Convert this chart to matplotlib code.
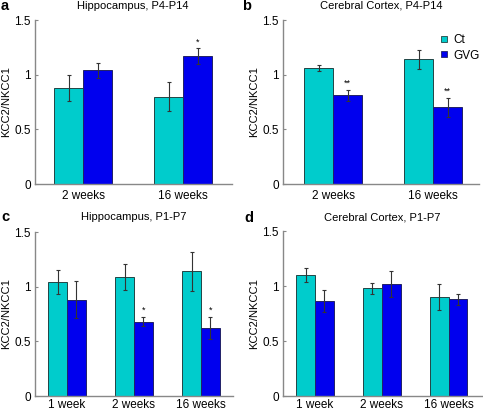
import numpy as np
import matplotlib
matplotlib.use("Agg")
from matplotlib import pyplot as plt
from matplotlib.lines import Line2D

plt.rcParams["font.family"] = ["Liberation Sans", "DejaVu Sans"]
plt.rcParams["font.size"] = 8

ct_color = "#00cccc"
gvg_color = "#0000ee"

# panel data
titles = ["Hippocampus, P4-P14", "Cerebral Cortex, P4-P14",
          "Hippocampus, P1-P7", "Cerebral Cortex, P1-P7"]
letters = ["a", "b", "c", "d"]

groups_ab = ["2 weeks", "16 weeks"]
groups_cd = ["1 week", "2 weeks", "16 weeks"]

a_ct = [0.88, 0.80]
a_ct_err = [0.12, 0.13]
a_gvg = [1.04, 1.17]
a_gvg_err = [0.07, 0.07]
a_stars = ["", "*"]

b_ct = [1.06, 1.14]
b_ct_err = [0.03, 0.09]
b_gvg = [0.81, 0.70]
b_gvg_err = [0.05, 0.09]
b_stars = ["**", "**"]

c_ct = [1.04, 1.09, 1.14]
c_ct_err = [0.11, 0.12, 0.18]
c_gvg = [0.88, 0.68, 0.62]
c_gvg_err = [0.17, 0.04, 0.10]
c_stars = ["", "*", "*"]

d_ct = [1.10, 0.98, 0.90]
d_ct_err = [0.06, 0.05, 0.12]
d_gvg = [0.86, 1.02, 0.88]
d_gvg_err = [0.10, 0.12, 0.05]
d_stars = ["", "", ""]

W, H = 483, 411
fig = plt.figure(figsize=(W / 100, H / 100), dpi=100)


def px_axes(left, right, bottom, top):
    return fig.add_axes([left / W, 1 - bottom / H, (right - left) / W, (bottom - top) / H])


panels = [
    (px_axes(35, 232, 184, 20), groups_ab, a_ct, a_ct_err, a_gvg, a_gvg_err, a_stars, (-0.48, 1.49), 0.29),
    (px_axes(283, 479, 184, 20), groups_ab, b_ct, b_ct_err, b_gvg, b_gvg_err, b_stars, (-0.5, 1.46), 0.29),
    (px_axes(35, 233, 396, 232), groups_cd, c_ct, c_ct_err, c_gvg, c_gvg_err, c_stars, (-0.48, 2.48), 0.28),
    (px_axes(283, 482, 396, 231), groups_cd, d_ct, d_ct_err, d_gvg, d_gvg_err, d_stars, (-0.48, 2.5), 0.28),
]

for i, (ax, groups, ct, cte, gvg, gvge, stars, xl, bw) in enumerate(panels):
    x = np.arange(len(groups))
    ekw = dict(ecolor="#333333", elinewidth=0.8, capsize=1.5, capthick=0.8)
    ax.bar(x - bw / 2, ct, bw, yerr=cte, color=ct_color, edgecolor="#224444",
           linewidth=0.7, error_kw=ekw)
    ax.bar(x + bw / 2, gvg, bw, yerr=gvge, color=gvg_color, edgecolor="#222266",
           linewidth=0.7, error_kw=ekw)
    for xi, v, e, s in zip(x, gvg, gvge, stars):
        if s:
            ax.text(xi + bw / 2, v + e + 0.02, s, ha="center", va="bottom", fontsize=6.5)
    ax.set_xlim(*xl)
    ax.set_ylim(0, 1.5)
    ax.set_yticks([0, 0.5, 1, 1.5])
    ax.set_yticklabels(["0", "0.5", "1", "1.5"], fontsize=8.5)
    ax.set_xticks(x)
    ax.set_xticklabels(groups, fontsize=8.5)
    ax.tick_params(axis="x", length=0, pad=2 if len(groups) == 3 else 4)
    ax.tick_params(axis="y", direction="in", length=2, width=0.8, color="#888888", pad=3)
    for sp in ["top", "right"]:
        ax.spines[sp].set_visible(False)
    for sp in ["left", "bottom"]:
        ax.spines[sp].set_color("#888888")
        ax.spines[sp].set_linewidth(1.0)
    ax.set_ylabel("KCC2/NKCC1", fontsize=8, labelpad=2)
    ax.patch.set_visible(False)

# titles and panel letters
title_pos = [(133, 6), (381, 6), (134, 217), (382, 217)]
letter_pos = [(1, 6), (242, 6), (1, 217), (244, 218)]
for t, (tx, ty), l, (lx, ly) in zip(titles, title_pos, letters, letter_pos):
    fig.text(tx / W, 1 - ty / H, t, ha="center", va="center", fontsize=8)
    fig.text(lx / W, 1 - ly / H, l, ha="left", va="center", fontsize=10.5, fontweight="bold")

handles = [
    Line2D([], [], marker="s", linestyle="none", markersize=5, markerfacecolor=ct_color,
           markeredgecolor="#224444", markeredgewidth=0.6, label="Ct"),
    Line2D([], [], marker="s", linestyle="none", markersize=5, markerfacecolor=gvg_color,
           markeredgecolor="#222266", markeredgewidth=0.6, label="GVG"),
]
fig.legend(handles=handles, loc="upper left", bbox_to_anchor=(439 / W, 1 - 34 / H),
           frameon=False, handlelength=0.8, handletextpad=0.4, labelspacing=0.3,
           borderaxespad=0, borderpad=0, fontsize=8.5)

fig.savefig("out.png", dpi=100)
